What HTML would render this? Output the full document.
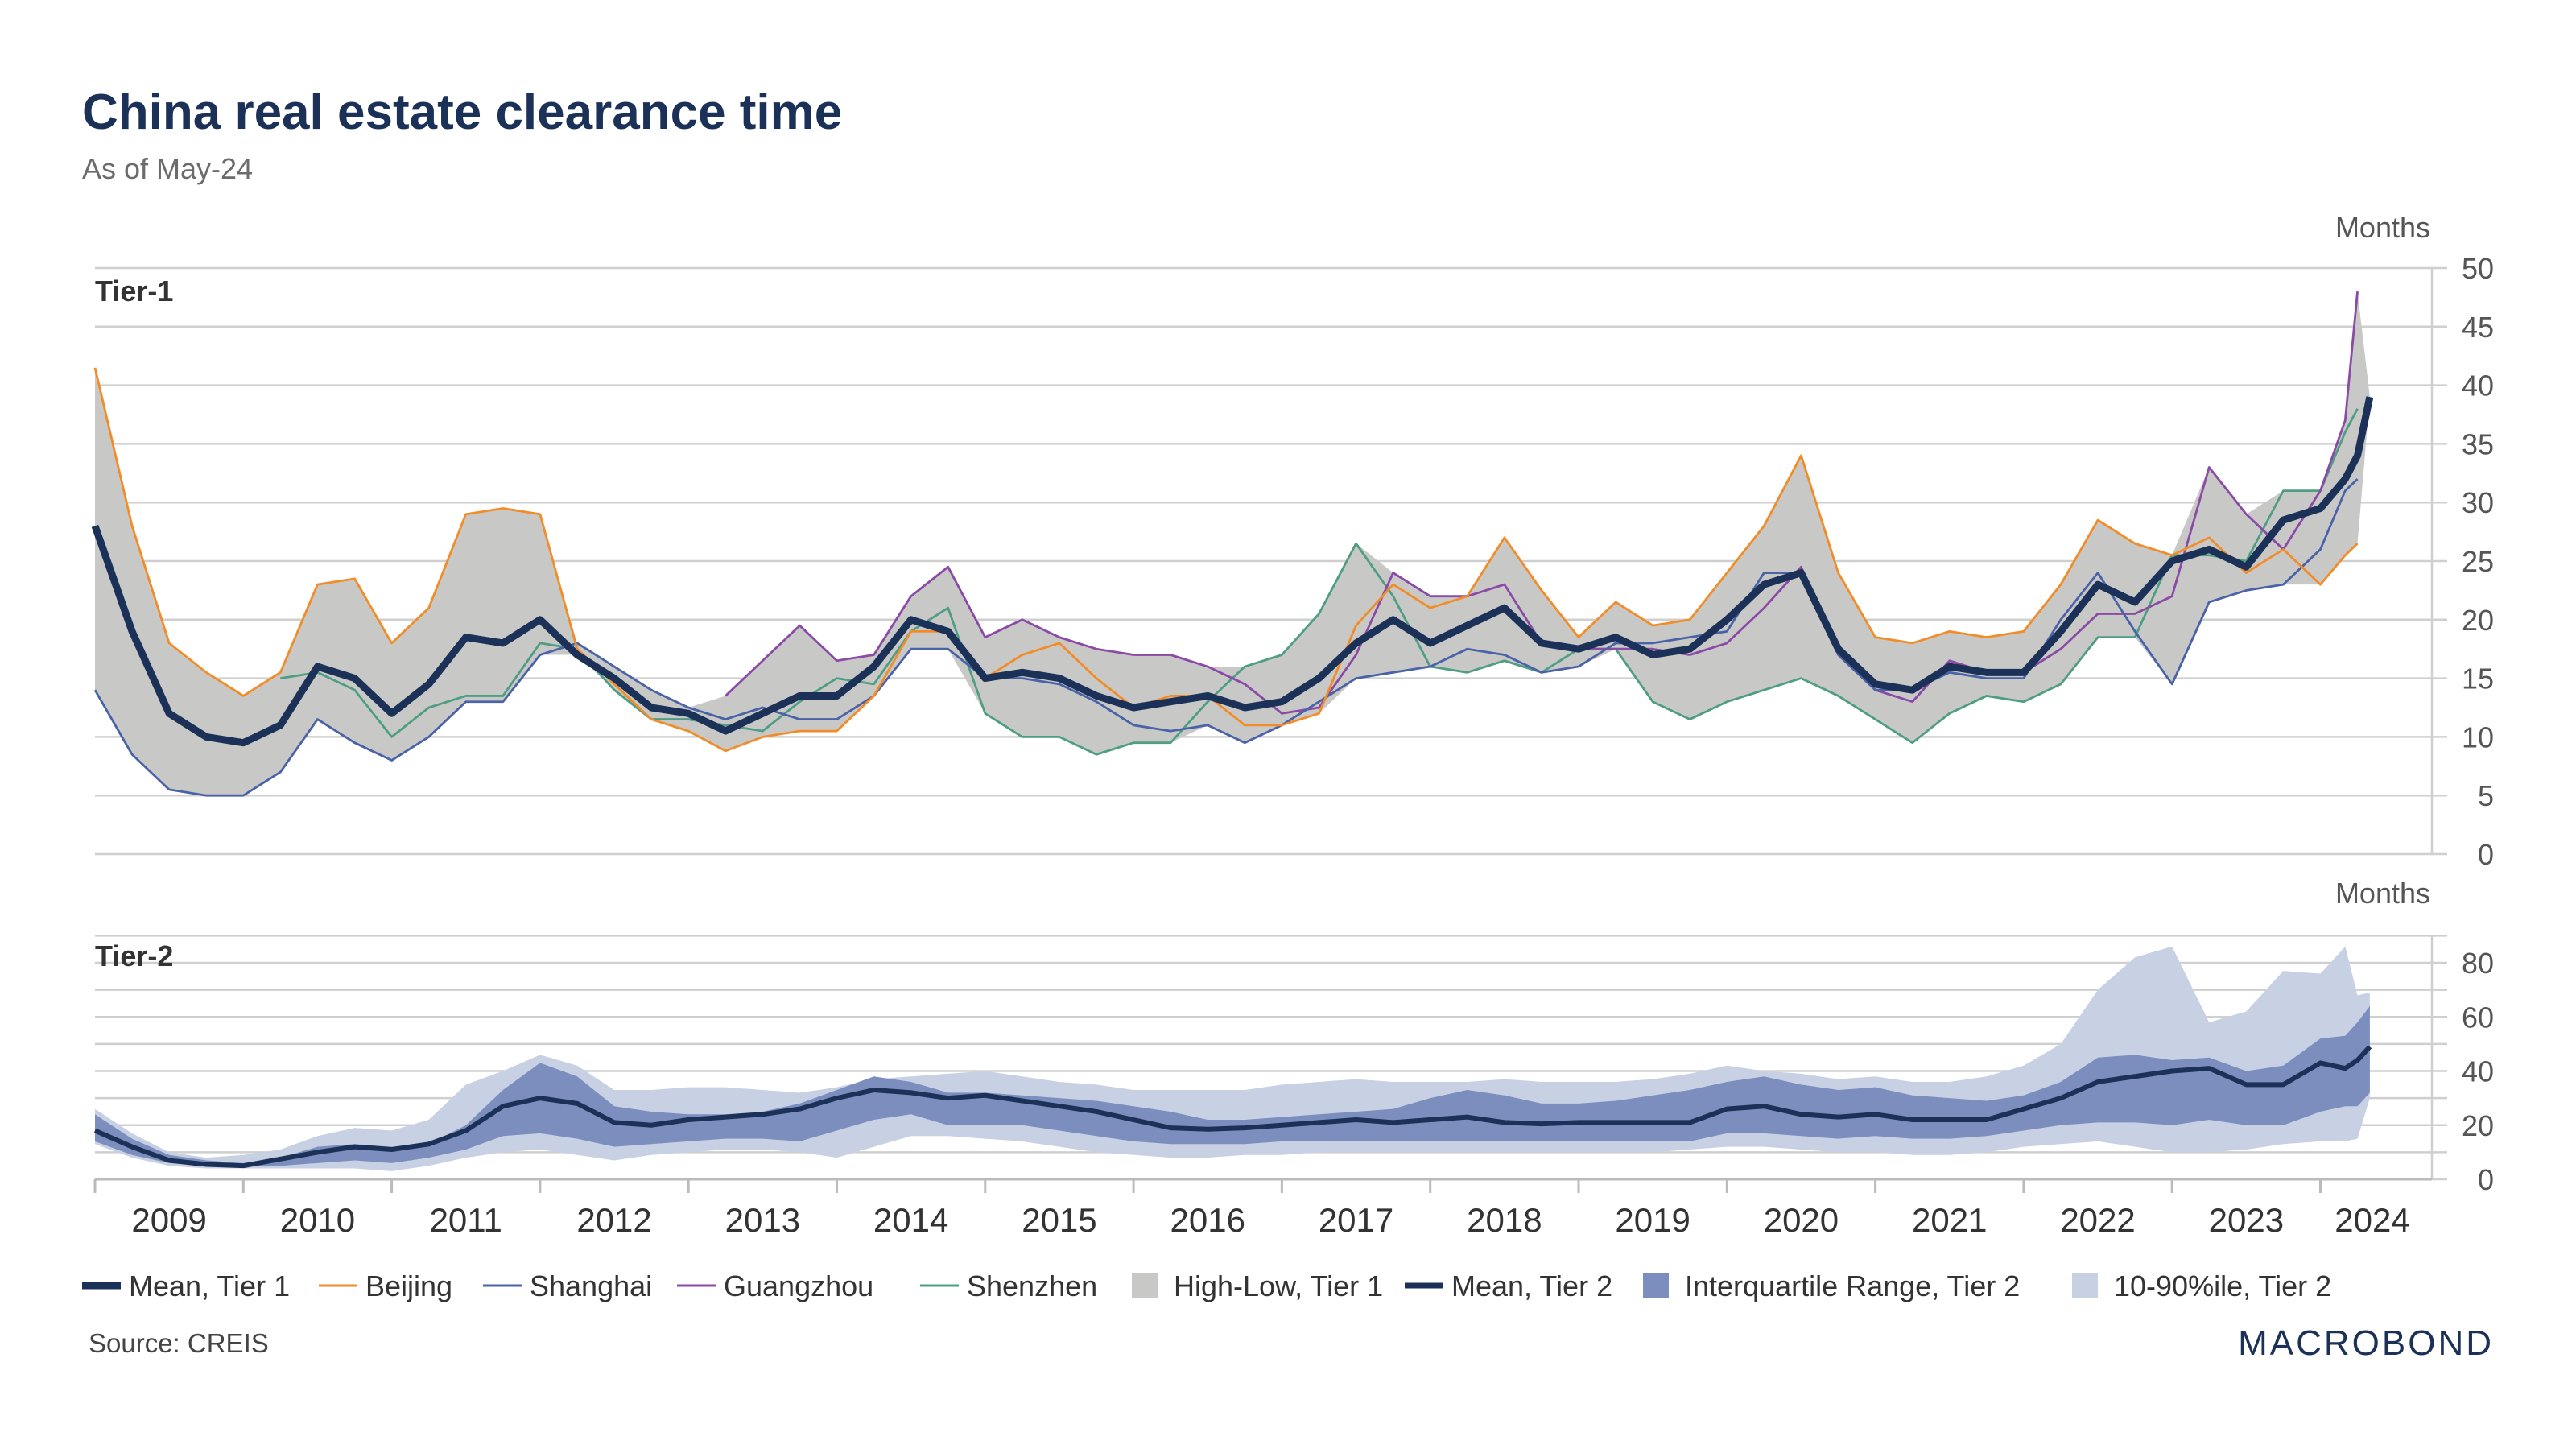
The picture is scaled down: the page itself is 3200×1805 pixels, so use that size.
<!DOCTYPE html>
<html><head><meta charset="utf-8">
<style>
html,body{margin:0;padding:0;background:#fff;}
body{width:3200px;height:1800px;overflow:hidden;font-family:"Liberation Sans",sans-serif;}
svg text{font-family:"Liberation Sans",sans-serif;}
</style></head>
<body>
<svg id="chart" width="3200" height="1800" viewBox="0 0 3200 1800" xmlns="http://www.w3.org/2000/svg">
<text x="102" y="160" font-size="62" font-weight="bold" fill="#1b3157">China real estate clearance time</text>
<text x="102" y="222" font-size="36" fill="#6b6b6b">As of May-24</text>
<g id="topPanel"></g>
<g id="bottomPanel"></g>
<g id="xaxis"></g>
<g id="legend"></g>
<text x="110" y="1680" font-size="33" fill="#444">Source: CREIS</text>
<text x="3098" y="1683" font-size="44" text-anchor="end" fill="#1b3157" letter-spacing="3">MACROBOND</text>
</svg>
<script>
const dates=[2009,2009.25,2009.5,2009.75,2010,2010.25,2010.5,2010.75,2011,2011.25,2011.5,2011.75,2012,2012.25,2012.5,2012.75,2013,2013.25,2013.5,2013.75,2014,2014.25,2014.5,2014.75,2015,2015.25,2015.5,2015.75,2016,2016.25,2016.5,2016.75,2017,2017.25,2017.5,2017.75,2018,2018.25,2018.5,2018.75,2019,2019.25,2019.5,2019.75,2020,2020.25,2020.5,2020.75,2021,2021.25,2021.5,2021.75,2022,2022.25,2022.5,2022.75,2023,2023.25,2023.5,2023.75,2024,2024.167,2024.25,2024.333];
const meanT1=[28,19,12,10, 9.5,11,16,15, 12,14.5,18.5,18, 20,17,15,12.5, 12,10.5,12,13.5, 13.5,16,20,19, 15,15.5,15,13.5, 12.5,13,13.5,12.5, 13,15,18,20, 18,19.5,21,18, 17.5,18.5,17,17.5, 20,23,24,17.5, 14.5,14,16,15.5, 15.5,19,23,21.5, 25,26,24.5,28.5, 29.5,32,34,39];
const beijing=[41.5,28,18,15.5, 13.5,15.5,23,23.5, 18,21,29,29.5, 29,17.5,14.5,11.5, 10.5,8.8,10,10.5, 10.5,13.5,19,19, 15,17,18,15, 12.5,13.5,13.5,11, 11,12,19.5,23, 21,22,27,22.5, 18.5,21.5,19.5,20, 24,28,34,24, 18.5,18,19,18.5, 19,23,28.5,26.5, 25.5,27,24,26, 23,25.5,26.5,null];
const shanghai=[14,8.5,5.5,5, 5,7,11.5,9.5, 8,10,13,13, 17,18,16,14, 12.5,11.5,12.5,11.5, 11.5,13.5,17.5,17.5, 15,15,14.5,13, 11,10.5,11,9.5, 11,13,15,15.5, 16,17.5,17,15.5, 16,18,18,18.5, 19,24,24,17, 14,14,15.5,15, 15,20,24,19, 14.5,21.5,22.5,23, 26,31,32,null];
const guangzhou=[null,null,null,null, null,null,null,null, null,null,null,null, null,null,null,null, null,13.5,16.5,19.5, 16.5,17,22,24.5, 18.5,20,18.5,17.5, 17,17,16,14.5, 12,12.5,17,24, 22,22,23,18, 17.5,17.5,17.5,17, 18,21,24.5,17, 14,13,16.5,15.5, 15.5,17.5,20.5,20.5, 22,33,29,26, 31,37,48,null];
const shenzhen=[null,null,null,null, null,15,15.5,14, 10,12.5,13.5,13.5, 18,17.5,14,11.5, 11.5,11,10.5,13, 15,14.5,19,21, 12,10,10,8.5, 9.5,9.5,13,16, 17,20.5,26.5,22, 16,15.5,16.5,15.5, 17.5,17.5,13,11.5, 13,14,15,13.5, 11.5,9.5,12,13.5, 13,14.5,18.5,18.5, 25.5,25.5,25,31, 31,36,38,null];
const meanT2=[18,12,7,5.5, 5,7.5,10,12, 11,13,18,27, 30,28,21,20, 22,23,24,26, 30,33,32,30, 31,29,27,25, 22,19,18.5,19, 20,21,22,21, 22,23,21,20.5, 21,21,21,21, 26,27,24,23, 24,22,22,22, 26,30,36,38, 40,41,35,35, 43,41,44,49];
const iqrHi=[24,15,9,7, 6,8,12,13, 12,13,20,33, 43,38,27,25, 24,24,25,28, 33,38,36,32, 32,31,30,29, 27,25,22,22, 23,24,25,26, 30,33,31,28, 28,29,31,33, 36,38,35,33, 34,31,30,29, 31,36,45,46, 44,45,40,42, 52,53,58,64];
const iqrLo=[14,9,6,5, 5,5,6,7, 6,8,11,16, 17,15,12,13, 14,15,15,14, 18,22,24,20, 20,20,18,16, 14,13,13,13, 14,14,14,14, 14,14,14,14, 14,14,14,14, 17,17,16,15, 16,15,15,16, 18,20,21,21, 20,22,20,20, 25,27,27,32];
const p90=[26,17,10,8, 9,11,16,19, 18,22,35,40, 46,42,33,33, 34,34,33,32, 34,37,38,39, 40,38,36,35, 33,33,33,33, 35,36,37,36, 36,36,37,36, 36,36,37,39, 42,40,39,37, 38,36,36,38, 42,50,70,82, 86,58,62,77, 76,86,68,69];
const p10=[13,8,5,4, 4,4,4,4, 3,5,8,10, 11,9,7,9, 10,11,11,10, 8,12,16,16, 15,14,12,10, 9,8,8,9, 9,10,10,10, 10,10,10,10, 10,10,10,11, 12,12,11,10, 10,9,9,10, 12,13,14,12, 10,10,11,13, 14,14,15,30];
const topTicks=[0,5,10,15,20,25,30,35,40,45,50];
const botTicks=[0,20,40,60,80];
const botGrid=[0,10,20,30,40,50,60,70,80,90];
const years=[2009,2010,2011,2012,2013,2014,2015,2016,2017,2018,2019,2020,2021,2022,2023,2024];

const NS="http://www.w3.org/2000/svg";
const X0=118,XW=184.3,XR=3021;
const xs=t=>X0+(t-2009)*XW;
const yT=v=>1061-v*14.56;
const yB=v=>1465-v*3.3625;
function mk(parent,tag,attrs){const e=document.createElementNS(NS,tag);for(const k in attrs)e.setAttribute(k,attrs[k]);parent.appendChild(e);return e;}
const gTop=document.getElementById('topPanel'),gBot=document.getElementById('bottomPanel'),xa=document.getElementById('xaxis'),lg=document.getElementById('legend');

topTicks.forEach(v=>{
  const l=mk(gTop,'line',{x1:X0,x2:3040,y1:yT(v),y2:yT(v),stroke:'#cfcfcf','stroke-width':2.5});
  
  
  const t=mk(gTop,'text',{x:3098,y:yT(v)+13,'font-size':36,'text-anchor':'end',fill:'#555'});
  t.textContent=v;
  
  
});
const ra=mk(gTop,'line',{x1:XR,x2:XR,y1:yT(50),y2:yT(0),stroke:'#cfcfcf','stroke-width':2.5});


const m1=mk(gTop,'text',{x:3019,y:295,'font-size':36,'text-anchor':'end',fill:'#555'});m1.textContent='Months';



const all=[meanT1,beijing,shanghai,guangzhou,shenzhen];
const hi=dates.map((d,i)=>Math.max(...all.map(s=>s[i]).filter(v=>v!==null)));
const lo=dates.map((d,i)=>Math.min(...all.map(s=>s[i]).filter(v=>v!==null)));
function band(g,up,dn,yf,fill,name){
  let p=dates.map((d,i)=>xs(d)+','+yf(up[i])).join(' ')+' '+dates.map((d,i)=>xs(d)+','+yf(dn[i])).reverse().join(' ');
  const e=mk(g,'polygon',{points:p,fill:fill});
  
  
}
function line(g,s,yf,col,w,name){
  let d='',pen=false;
  s.forEach((v,i)=>{if(v===null){pen=false;return;}d+=(pen?'L':'M')+xs(dates[i])+' '+yf(v)+' ';pen=true;});
  const e=mk(g,'path',{d:d,fill:'none',stroke:col,'stroke-width':w,'stroke-linejoin':'round'});
  
  
}
band(gTop,hi,lo,yT,'#c8c9c6','high-low-band-tier1');
line(gTop,shenzhen,yT,'#4f9e84',2.8,'shenzhen-line');
line(gTop,guangzhou,yT,'#8a4aa6',2.8,'guangzhou-line');
line(gTop,shanghai,yT,'#4a62a8',2.8,'shanghai-line');
line(gTop,beijing,yT,'#f28c28',2.8,'beijing-line');
line(gTop,meanT1,yT,'#1b3157',9,'mean-tier1-line');
const tl1=mk(gTop,'text',{x:118,y:374,'font-size':36,'font-weight':'bold',fill:'#333'});tl1.textContent='Tier-1';



botGrid.forEach(v=>{
  const l=mk(gBot,'line',{x1:X0,x2:3040,y1:yB(v),y2:yB(v),stroke:'#cfcfcf','stroke-width':2.5});
  
  
});
botTicks.forEach(v=>{
  const t=mk(gBot,'text',{x:3098,y:yB(v)+13,'font-size':36,'text-anchor':'end',fill:'#555'});
  t.textContent=v;
  
  
});
const rb=mk(gBot,'line',{x1:XR,x2:XR,y1:yB(90),y2:yB(0),stroke:'#cfcfcf','stroke-width':2.5});


const m2=mk(gBot,'text',{x:3019,y:1122,'font-size':36,'text-anchor':'end',fill:'#555'});m2.textContent='Months';


band(gBot,p90,p10,yB,'#c8d0e4','p10-p90-band-tier2');
band(gBot,iqrHi,iqrLo,yB,'#7b8ebe','iqr-band-tier2');
line(gBot,meanT2,yB,'#1b3157',6,'mean-tier2-line');
const tl2=mk(gBot,'text',{x:118,y:1200,'font-size':36,'font-weight':'bold',fill:'#333'});tl2.textContent='Tier-2';


const base=mk(xa,'line',{x1:X0,x2:XR,y1:yB(0),y2:yB(0),stroke:'#bbb','stroke-width':3});



years.forEach(yr=>{
  const tk=mk(xa,'line',{x1:xs(yr),x2:xs(yr),y1:1465,y2:1482,stroke:'#bbb','stroke-width':3});
  
  
  const cx=yr===2024?2947:xs(yr+0.5);
  const t=mk(xa,'text',{x:cx,y:1530,'font-size':42,'text-anchor':'middle',fill:'#333'});
  t.textContent=yr;
  
  
});

const legItems=[[102,'line','#1b3157',9,'Mean, Tier 1'],[396,'line','#f28c28',3,'Beijing'],[600,'line','#4a62a8',3,'Shanghai'],[841,'line','#8a4aa6',3,'Guangzhou'],[1143,'line','#4f9e84',3,'Shenzhen'],[1400,'box','#c8c9c6',0,'High-Low, Tier 1'],[1745,'line','#1b3157',7,'Mean, Tier 2'],[2035,'box','#7b8ebe',0,'Interquartile Range, Tier 2'],[2568,'box','#c8d0e4',0,'10-90%ile, Tier 2']];
legItems.forEach(it=>{
  const g=mk(lg,'g',{});
  
  
  if(it[1]==='line'){mk(g,'line',{x1:it[0],x2:it[0]+48,y1:1597,y2:1597,stroke:it[2],'stroke-width':it[3]});}
  else{mk(g,'rect',{x:it[0]+6,y:1581,width:32,height:32,fill:it[2]});}
  const t=mk(g,'text',{x:it[0]+58,y:1610,'font-size':36,fill:'#333'});
  t.textContent=it[4];
});
</script>
</body></html>
